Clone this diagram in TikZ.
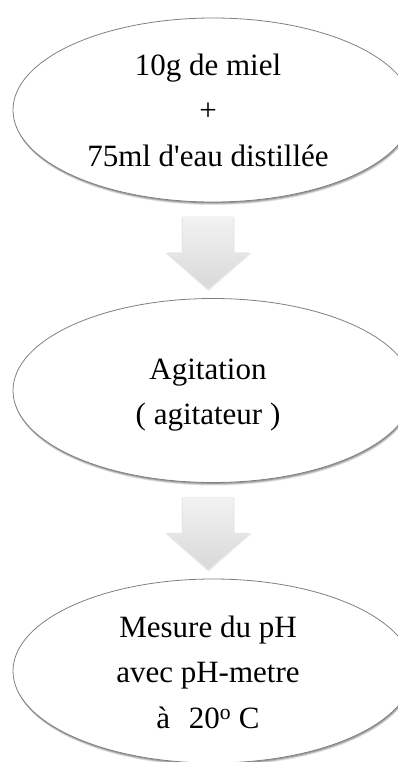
\documentclass[tikz,border=0pt]{standalone}
\usepackage{fontspec}
\setmainfont{Liberation Serif}
\usetikzlibrary{calc,shadows,shapes.geometric}

\tikzset{
  bubble/.style={
    ellipse, draw=black!50, line width=0.8pt, fill=white,
    minimum width=400pt, minimum height=184pt, inner sep=0pt,
    drop shadow={shadow xshift=1pt, shadow yshift=-3pt, fill=black, opacity=0.10},
    drop shadow={shadow xshift=0.8pt, shadow yshift=-2.2pt, fill=black, opacity=0.15},
    drop shadow={shadow xshift=0.5pt, shadow yshift=-1.3pt, fill=black, opacity=0.2}
  },
  steptext/.style={
    align=center, inner sep=0pt,
    font=\fontsize{31}{45.5}\selectfont
  },
  downarrow/.pic={
    % soft shadow under the block arrow
    \fill[black, opacity=0.06] (-26.5,1) -- (26.5,1) -- (26.5,37) -- (43.5,37) -- (0.5,75) -- (-42.5,37) -- (-26.5,37) -- cycle;
    \fill[black, opacity=0.06] (-26,0.5) -- (26,0.5) -- (26,36.5) -- (42.5,36.5) -- (0.3,73.5) -- (-42,36.5) -- (-26,36.5) -- cycle;
    \shade[top color=black!5, bottom color=black!15, rounded corners=1pt]
      (-25.5,0) -- (25.5,0) -- (25.5,36) -- (41.5,36) -- (0,72) -- (-41.5,36) -- (-25.5,36) -- cycle;
  }
}

\begin{document}
\begin{tikzpicture}[x=1pt, y=-1pt]
  \clip (0,0) rectangle (398,762);
  \fill[white] (0,0) rectangle (398,762);

  % the three stages
  \node[bubble] (e1) at (213,110) {};
  \node[bubble] (e2) at (213,390.5) {};
  \node[bubble] (e3) at (213,671) {};

  \node[steptext] (t1) at (208,110.3) {10g de miel\\+\\75ml d\textquotesingle eau distillée};
  \node[steptext] (t2) at (208,395.2) {Agitation\\( agitateur )};
  \node[steptext] (t3) at (208,672.3) {Mesure du pH\\avec pH-metre\\à\hspace{0.35em} 20\textsuperscript{o} C};

  % block arrows between the stages
  \pic at ($(e1.south)+(-5,14)$) {downarrow};
  \pic at ($(e2.south)+(-5,14)$) {downarrow};
\end{tikzpicture}
\end{document}
